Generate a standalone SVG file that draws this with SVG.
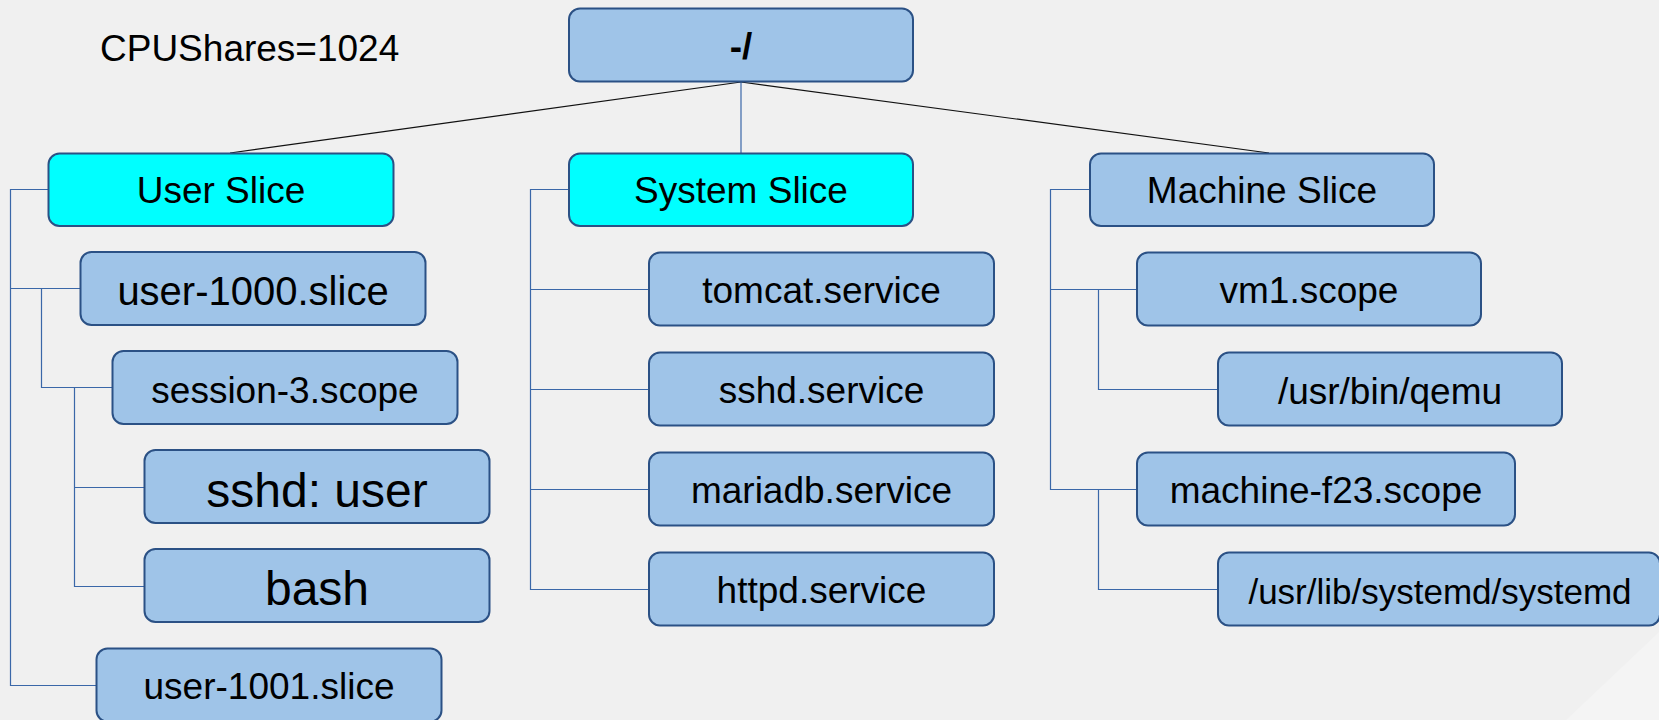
<svg xmlns="http://www.w3.org/2000/svg" width="1659" height="720" viewBox="0 0 1659 720">
<style>
.box{fill:#9fc4e8;stroke:#2b5185;stroke-width:2}
.cyan{fill:#00ffff;stroke:#2b5185;stroke-width:2}
.t{font-family:"Liberation Sans",Arial,sans-serif;font-size:37px;fill:#000;text-anchor:middle}
.tree{fill:none;stroke:#3a67a8;stroke-width:1.2}
.root{fill:none;stroke:#111;stroke-width:1.2}
</style>
<rect x="0" y="0" width="1659" height="720" fill="#f0f0f0"/>
<polygon points="1659,632 1659,720 1566,720" fill="#f4f4f4"/>
<text x="100" y="61" style="font-family:'Liberation Sans',Arial,sans-serif;font-size:37px;fill:#000">CPUShares=1024</text>
<g id="connectors">
<path class="root" d="M741,82 L230,153 M741,82 L1269,153"/>
<path class="tree" d="M741,82 V153"/>
<path class="tree" d="M48,189.5 H10.5 V685.5 H96 M10.5,288.5 H80 M41.5,288.5 V387.5 H112 M74.5,387.5 V586.5 H144 M74.5,487.5 H144"/>
<path class="tree" d="M569,189.5 H530.5 V589.5 H649 M530.5,289.5 H649 M530.5,389.5 H649 M530.5,489.5 H649"/>
<path class="tree" d="M1090,189.5 H1050.5 V489.5 H1137 M1050.5,289.5 H1137 M1098.5,289.5 V389.5 H1218 M1098.5,489.5 V589.5 H1218"/>
</g>
<g id="root"><rect class="box" x="569" y="8.5" width="344" height="73" rx="11"/><text class="t" x="741" y="59" font-weight="bold">-/</text></g>
<g id="user-slice"><rect class="cyan" x="48.5" y="153.5" width="345" height="72.5" rx="11"/><text class="t" x="221" y="203">User Slice</text></g>
<g id="system-slice"><rect class="cyan" x="569" y="153.5" width="344" height="72.5" rx="11"/><text class="t" x="741" y="203">System Slice</text></g>
<g id="machine-slice"><rect class="box" x="1090" y="153.5" width="344" height="72.5" rx="11"/><text class="t" x="1262" y="203">Machine Slice</text></g>
<g id="user-1000"><rect class="box" x="80.5" y="252" width="345" height="73" rx="11"/><text class="t" x="253" y="305" font-size="40" style="font-size:40px">user-1000.slice</text></g>
<g id="session-3"><rect class="box" x="112.5" y="351" width="345" height="73" rx="11"/><text class="t" x="285" y="403">session-3.scope</text></g>
<g id="sshd-user"><rect class="box" x="144.5" y="450" width="345" height="73" rx="11"/><text class="t" x="317" y="507" style="font-size:48px">sshd: user</text></g>
<g id="bash"><rect class="box" x="144.5" y="549" width="345" height="73" rx="11"/><text class="t" x="317" y="605" style="font-size:48px">bash</text></g>
<g id="user-1001"><rect class="box" x="96.5" y="648.5" width="345" height="73" rx="11"/><text class="t" x="269" y="699">user-1001.slice</text></g>
<g id="tomcat"><rect class="box" x="649" y="252.5" width="345" height="73" rx="11"/><text class="t" x="821.5" y="303">tomcat.service</text></g>
<g id="sshd-service"><rect class="box" x="649" y="352.5" width="345" height="73" rx="11"/><text class="t" x="821.5" y="403">sshd.service</text></g>
<g id="mariadb"><rect class="box" x="649" y="452.5" width="345" height="73" rx="11"/><text class="t" x="821.5" y="503">mariadb.service</text></g>
<g id="httpd"><rect class="box" x="649" y="552.5" width="345" height="73" rx="11"/><text class="t" x="821.5" y="603">httpd.service</text></g>
<g id="vm1"><rect class="box" x="1137" y="252.5" width="344" height="73" rx="11"/><text class="t" x="1309" y="303">vm1.scope</text></g>
<g id="qemu"><rect class="box" x="1218" y="352.5" width="344" height="73" rx="11"/><text class="t" x="1390" y="404">/usr/bin/qemu</text></g>
<g id="machine-f23"><rect class="box" x="1137" y="452.5" width="378" height="73" rx="11"/><text class="t" x="1326" y="503">machine-f23.scope</text></g>
<g id="systemd"><rect class="box" x="1218" y="552.5" width="442" height="73" rx="11"/><text class="t" x="1440" y="604" style="font-size:35px">/usr/lib/systemd/systemd</text></g>
</svg>
